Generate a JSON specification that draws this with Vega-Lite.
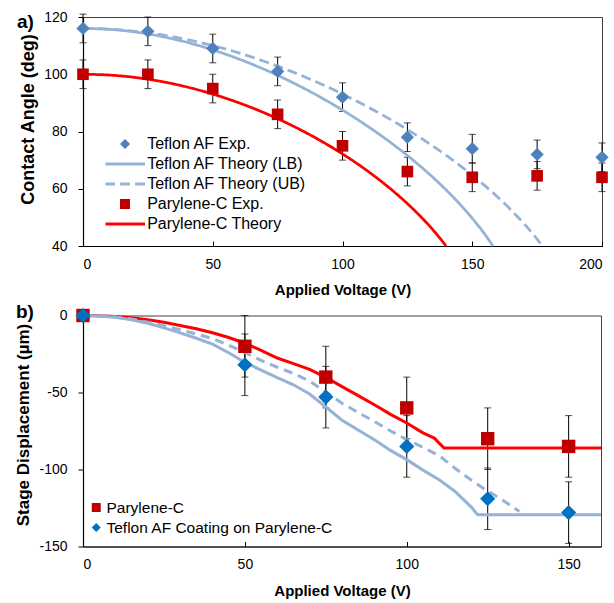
{
  "$schema": "https://vega.github.io/schema/vega-lite/v6.json",
  "padding": {"left": 14, "top": 9, "right": 8, "bottom": 5},
  "spacing": 4.5,
  "resolve": {"scale": {"color": "independent", "shape": "independent", "strokeDash": "independent"}, "legend": {"color": "independent", "shape": "independent"}},
  "config": {
    "font": "Liberation Sans",
    "view": {"stroke": "#404040", "strokeWidth": 1},
    "axis": {"grid": false, "labelFontSize": 14, "labelColor": "#000", "labelFont": "Liberation Sans", "titleFontSize": 15, "titleColor": "#000", "titleFont": "Liberation Sans", "titleFontWeight": "bold", "domainColor": "#000", "tickColor": "#000", "domainWidth": 1.2}
  },
  "datasets": {
    "aTef": [
      {"v": 0, "angle": 116, "lo": 111, "hi": 121, "series": "Teflon AF Exp."},
      {"v": 25, "angle": 115, "lo": 110, "hi": 120, "series": "Teflon AF Exp."},
      {"v": 50, "angle": 109, "lo": 104, "hi": 114, "series": "Teflon AF Exp."},
      {"v": 75, "angle": 101, "lo": 96, "hi": 106, "series": "Teflon AF Exp."},
      {"v": 100, "angle": 92, "lo": 87, "hi": 97, "series": "Teflon AF Exp."},
      {"v": 125, "angle": 78, "lo": 73, "hi": 83, "series": "Teflon AF Exp."},
      {"v": 150, "angle": 74, "lo": 69, "hi": 79, "series": "Teflon AF Exp."},
      {"v": 175, "angle": 72, "lo": 67, "hi": 77, "series": "Teflon AF Exp."},
      {"v": 200, "angle": 71, "lo": 66, "hi": 76, "series": "Teflon AF Exp."}
    ],
    "aPar": [
      {"v": 0, "angle": 100, "lo": 95, "hi": 105, "series": "Parylene-C Exp."},
      {"v": 25, "angle": 100, "lo": 95, "hi": 105, "series": "Parylene-C Exp."},
      {"v": 50, "angle": 95, "lo": 90, "hi": 100, "series": "Parylene-C Exp."},
      {"v": 75, "angle": 86, "lo": 81, "hi": 91, "series": "Parylene-C Exp."},
      {"v": 100, "angle": 75, "lo": 70, "hi": 80, "series": "Parylene-C Exp."},
      {"v": 125, "angle": 66, "lo": 61, "hi": 71, "series": "Parylene-C Exp."},
      {"v": 150, "angle": 64, "lo": 59, "hi": 69, "series": "Parylene-C Exp."},
      {"v": 175, "angle": 64.5, "lo": 59.5, "hi": 69.5, "series": "Parylene-C Exp."},
      {"v": 200, "angle": 64, "lo": 59, "hi": 69, "series": "Parylene-C Exp."}
    ],
    "aTheory": [
      {"v": 0, "angle": 116, "series": "Teflon AF Theory (LB)"},
      {"v": 10, "angle": 115.69, "series": "Teflon AF Theory (LB)"},
      {"v": 20, "angle": 114.78, "series": "Teflon AF Theory (LB)"},
      {"v": 30, "angle": 113.26, "series": "Teflon AF Theory (LB)"},
      {"v": 40, "angle": 111.17, "series": "Teflon AF Theory (LB)"},
      {"v": 50, "angle": 108.53, "series": "Teflon AF Theory (LB)"},
      {"v": 60, "angle": 105.35, "series": "Teflon AF Theory (LB)"},
      {"v": 70, "angle": 101.65, "series": "Teflon AF Theory (LB)"},
      {"v": 80, "angle": 97.45, "series": "Teflon AF Theory (LB)"},
      {"v": 90, "angle": 92.73, "series": "Teflon AF Theory (LB)"},
      {"v": 100, "angle": 87.48, "series": "Teflon AF Theory (LB)"},
      {"v": 110, "angle": 81.64, "series": "Teflon AF Theory (LB)"},
      {"v": 120, "angle": 75.15, "series": "Teflon AF Theory (LB)"},
      {"v": 130, "angle": 67.86, "series": "Teflon AF Theory (LB)"},
      {"v": 140, "angle": 59.53, "series": "Teflon AF Theory (LB)"},
      {"v": 145, "angle": 54.84, "series": "Teflon AF Theory (LB)"},
      {"v": 150, "angle": 49.68, "series": "Teflon AF Theory (LB)"},
      {"v": 155, "angle": 43.9, "series": "Teflon AF Theory (LB)"},
      {"v": 158, "angle": 40, "series": "Teflon AF Theory (LB)"},
      {"v": 0, "angle": 116, "series": "Teflon AF Theory (UB)"},
      {"v": 10, "angle": 115.75, "series": "Teflon AF Theory (UB)"},
      {"v": 20, "angle": 115.02, "series": "Teflon AF Theory (UB)"},
      {"v": 30, "angle": 113.81, "series": "Teflon AF Theory (UB)"},
      {"v": 40, "angle": 112.14, "series": "Teflon AF Theory (UB)"},
      {"v": 50, "angle": 110.01, "series": "Teflon AF Theory (UB)"},
      {"v": 60, "angle": 107.46, "series": "Teflon AF Theory (UB)"},
      {"v": 70, "angle": 104.48, "series": "Teflon AF Theory (UB)"},
      {"v": 80, "angle": 101.09, "series": "Teflon AF Theory (UB)"},
      {"v": 90, "angle": 97.3, "series": "Teflon AF Theory (UB)"},
      {"v": 100, "angle": 93.09, "series": "Teflon AF Theory (UB)"},
      {"v": 110, "angle": 88.47, "series": "Teflon AF Theory (UB)"},
      {"v": 120, "angle": 83.39, "series": "Teflon AF Theory (UB)"},
      {"v": 130, "angle": 77.8, "series": "Teflon AF Theory (UB)"},
      {"v": 140, "angle": 71.64, "series": "Teflon AF Theory (UB)"},
      {"v": 150, "angle": 64.75, "series": "Teflon AF Theory (UB)"},
      {"v": 160, "angle": 56.93, "series": "Teflon AF Theory (UB)"},
      {"v": 165, "angle": 52.54, "series": "Teflon AF Theory (UB)"},
      {"v": 170, "angle": 47.74, "series": "Teflon AF Theory (UB)"},
      {"v": 175, "angle": 42.37, "series": "Teflon AF Theory (UB)"},
      {"v": 177, "angle": 40, "series": "Teflon AF Theory (UB)"},
      {"v": 0, "angle": 100, "series": "Parylene-C Theory"},
      {"v": 10, "angle": 99.72, "series": "Parylene-C Theory"},
      {"v": 20, "angle": 98.89, "series": "Parylene-C Theory"},
      {"v": 30, "angle": 97.5, "series": "Parylene-C Theory"},
      {"v": 40, "angle": 95.56, "series": "Parylene-C Theory"},
      {"v": 50, "angle": 93.08, "series": "Parylene-C Theory"},
      {"v": 60, "angle": 90.05, "series": "Parylene-C Theory"},
      {"v": 70, "angle": 86.47, "series": "Parylene-C Theory"},
      {"v": 80, "angle": 82.33, "series": "Parylene-C Theory"},
      {"v": 90, "angle": 77.58, "series": "Parylene-C Theory"},
      {"v": 100, "angle": 72.16, "series": "Parylene-C Theory"},
      {"v": 110, "angle": 65.97, "series": "Parylene-C Theory"},
      {"v": 120, "angle": 58.83, "series": "Parylene-C Theory"},
      {"v": 125, "angle": 54.81, "series": "Parylene-C Theory"},
      {"v": 130, "angle": 50.39, "series": "Parylene-C Theory"},
      {"v": 135, "angle": 45.48, "series": "Parylene-C Theory"},
      {"v": 138, "angle": 42.23, "series": "Parylene-C Theory"},
      {"v": 139.9, "angle": 40, "series": "Parylene-C Theory"}
    ],
    "bExp": [
      {"v": 50, "disp": -20, "lo": -40, "hi": 0, "series": "Parylene-C"},
      {"v": 75, "disp": -40, "lo": -60, "hi": -20, "series": "Parylene-C"},
      {"v": 100, "disp": -60, "lo": -80, "hi": -40, "series": "Parylene-C"},
      {"v": 125, "disp": -80, "lo": -100, "hi": -60, "series": "Parylene-C"},
      {"v": 150, "disp": -85, "lo": -105, "hi": -65, "series": "Parylene-C"},
      {"v": 50, "disp": -32, "lo": -52, "hi": -12, "series": "Teflon AF Coating on Parylene-C"},
      {"v": 75, "disp": -53, "lo": -73, "hi": -33, "series": "Teflon AF Coating on Parylene-C"},
      {"v": 100, "disp": -85, "lo": -105, "hi": -65, "series": "Teflon AF Coating on Parylene-C"},
      {"v": 125, "disp": -119, "lo": -139, "hi": -99, "series": "Teflon AF Coating on Parylene-C"},
      {"v": 150, "disp": -128, "lo": -148, "hi": -108, "series": "Teflon AF Coating on Parylene-C"}
    ],
    "bPar": [
      {"v": 0, "disp": 0, "series": "Parylene-C"},
      {"v": 50, "disp": -20, "series": "Parylene-C"},
      {"v": 75, "disp": -40, "series": "Parylene-C"},
      {"v": 100, "disp": -60, "series": "Parylene-C"},
      {"v": 125, "disp": -80, "series": "Parylene-C"},
      {"v": 150, "disp": -85, "series": "Parylene-C"}
    ],
    "bTef": [
      {"v": 0, "disp": 0, "series": "Teflon AF Coating on Parylene-C"},
      {"v": 50, "disp": -32, "series": "Teflon AF Coating on Parylene-C"},
      {"v": 75, "disp": -53, "series": "Teflon AF Coating on Parylene-C"},
      {"v": 100, "disp": -85, "series": "Teflon AF Coating on Parylene-C"},
      {"v": 125, "disp": -119, "series": "Teflon AF Coating on Parylene-C"},
      {"v": 150, "disp": -128, "series": "Teflon AF Coating on Parylene-C"}
    ],
    "bRed": [
      {"v": 0, "disp": 0}, {"v": 5, "disp": -0.2}, {"v": 10, "disp": -0.6}, {"v": 15, "disp": -1.5},
      {"v": 20, "disp": -2.8}, {"v": 25, "disp": -4.4}, {"v": 30, "disp": -6.5}, {"v": 35, "disp": -8.6},
      {"v": 40, "disp": -11.2}, {"v": 45, "disp": -14.3}, {"v": 50, "disp": -18}, {"v": 55, "disp": -22.6},
      {"v": 60, "disp": -27.6}, {"v": 65, "disp": -31.2}, {"v": 70, "disp": -35}, {"v": 75, "disp": -40.2},
      {"v": 80, "disp": -46.2}, {"v": 85, "disp": -52}, {"v": 90, "disp": -58}, {"v": 95, "disp": -64.2},
      {"v": 100, "disp": -69.8}, {"v": 105, "disp": -76.2}, {"v": 108.5, "disp": -79.6}, {"v": 111.5, "disp": -86},
      {"v": 160, "disp": -86}
    ],
    "bUB": [
      {"v": 0, "disp": 0}, {"v": 5, "disp": -0.2}, {"v": 10, "disp": -0.9}, {"v": 15, "disp": -2.3},
      {"v": 20, "disp": -4.3}, {"v": 25, "disp": -6.7}, {"v": 30, "disp": -9.3}, {"v": 35, "disp": -12},
      {"v": 40, "disp": -15}, {"v": 45, "disp": -19.2}, {"v": 50, "disp": -24}, {"v": 55, "disp": -29.2},
      {"v": 60, "disp": -33.6}, {"v": 65, "disp": -37.6}, {"v": 70, "disp": -42.6}, {"v": 75, "disp": -49.6},
      {"v": 80, "disp": -57}, {"v": 85, "disp": -63}, {"v": 90, "disp": -68.8}, {"v": 95, "disp": -75},
      {"v": 100, "disp": -80.6}, {"v": 105, "disp": -85.6}, {"v": 110, "disp": -91}, {"v": 115, "disp": -99.4},
      {"v": 120, "disp": -107}, {"v": 125, "disp": -114}, {"v": 130, "disp": -120.4}, {"v": 134.8, "disp": -127.3}
    ],
    "bLB": [
      {"v": 0, "disp": 0}, {"v": 5, "disp": -0.3}, {"v": 10, "disp": -1.1}, {"v": 15, "disp": -2.8},
      {"v": 20, "disp": -5}, {"v": 25, "disp": -8}, {"v": 30, "disp": -11.3}, {"v": 35, "disp": -14.8},
      {"v": 40, "disp": -18.6}, {"v": 45, "disp": -24.2}, {"v": 50, "disp": -30.5}, {"v": 55, "disp": -35.4},
      {"v": 60, "disp": -40.4}, {"v": 65, "disp": -45}, {"v": 70, "disp": -51}, {"v": 75, "disp": -59.4},
      {"v": 80, "disp": -68}, {"v": 85, "disp": -74.4}, {"v": 90, "disp": -80.7}, {"v": 95, "disp": -87.6},
      {"v": 100, "disp": -93.6}, {"v": 105, "disp": -100.4}, {"v": 110, "disp": -106.6}, {"v": 115, "disp": -114.4},
      {"v": 120, "disp": -124.6}, {"v": 121.9, "disp": -129.4}, {"v": 160, "disp": -129.4}
    ]
  },
  "vconcat": [
    {
      "width": 519,
      "height": 229,
      "title": {"text": "a)", "anchor": "start", "frame": "group", "dx": -66, "offset": -21.5, "fontSize": 19, "fontWeight": "bold", "color": "#000", "font": "Liberation Sans"},
      "encoding": {
        "x": {"field": "v", "type": "quantitative", "title": "Applied Voltage (V)",
              "scale": {"domain": [0, 200], "nice": false},
              "axis": {"values": [0, 50, 100, 150, 200], "tickSize": -5, "labelPadding": 16, "titlePadding": 11.5}},
        "y": {"field": "angle", "type": "quantitative", "title": "Contact Angle (deg)",
              "scale": {"domain": [40, 120], "nice": false, "zero": false},
              "axis": {"values": [40, 60, 80, 100, 120], "tickSize": 5, "labelPadding": 11, "titlePadding": 6, "titleFontSize": 18, "titleY": 102}}
      },
      "layer": [
        {"data": {"name": "aTef"}, "mark": {"type": "rule", "color": "#000", "strokeWidth": 1},
         "encoding": {"y": {"field": "lo", "type": "quantitative", "title": "Contact Angle (deg)"}, "y2": {"field": "hi"}}},
        {"data": {"name": "aPar"}, "mark": {"type": "rule", "color": "#000", "strokeWidth": 1},
         "encoding": {"y": {"field": "lo", "type": "quantitative", "title": "Contact Angle (deg)"}, "y2": {"field": "hi"}}},
        {"data": {"name": "aTef"}, "mark": {"type": "tick", "orient": "horizontal", "size": 7, "thickness": 1, "color": "#000"},
         "encoding": {"y": {"field": "lo", "type": "quantitative", "title": "Contact Angle (deg)"}}},
        {"data": {"name": "aTef"}, "mark": {"type": "tick", "orient": "horizontal", "size": 7, "thickness": 1, "color": "#000"},
         "encoding": {"y": {"field": "hi", "type": "quantitative", "title": "Contact Angle (deg)"}}},
        {"data": {"name": "aPar"}, "mark": {"type": "tick", "orient": "horizontal", "size": 7, "thickness": 1, "color": "#000"},
         "encoding": {"y": {"field": "lo", "type": "quantitative", "title": "Contact Angle (deg)"}}},
        {"data": {"name": "aPar"}, "mark": {"type": "tick", "orient": "horizontal", "size": 7, "thickness": 1, "color": "#000"},
         "encoding": {"y": {"field": "hi", "type": "quantitative", "title": "Contact Angle (deg)"}}},
        {"data": {"name": "aTheory"}, "mark": {"type": "line", "strokeWidth": 2.75, "interpolate": "monotone"},
         "encoding": {
           "y": {"field": "angle", "type": "quantitative", "title": "Contact Angle (deg)"},
           "color": {"field": "series", "type": "nominal",
             "scale": {"domain": ["Teflon AF Exp.", "Teflon AF Theory (LB)", "Teflon AF Theory (UB)", "Parylene-C Exp.", "Parylene-C Theory"],
                       "range": ["#4F81BD", "#95B3D7", "#95B3D7", "#C00000", "#FF0000"]},
             "legend": {"orient": "none", "legendX": 22.5, "legendY": 117, "title": null, "padding": 0,
               "labelFontSize": 16, "labelColor": "#000", "labelFont": "Liberation Sans", "labelOffset": 14.2, "labelLimit": 0,
               "clipHeight": 20, "rowPadding": 0, "symbolOffset": 11.5, "symbolSize": 1600, "symbolStrokeWidth": 3,
               "encode": {"symbols": {"update": {
                 "shape": {"signal": "datum.value === 'Teflon AF Exp.' ? 'diamond' : datum.value === 'Parylene-C Exp.' ? 'square' : 'stroke'"},
                 "size": {"signal": "datum.value === 'Teflon AF Exp.' ? 100 : datum.value === 'Parylene-C Exp.' ? 100 : 1600"},
                 "fill": {"signal": "datum.value === 'Teflon AF Exp.' ? '#4F81BD' : datum.value === 'Parylene-C Exp.' ? '#C00000' : 'transparent'"},
                 "stroke": {"signal": "datum.value === 'Parylene-C Theory' ? '#FF0000' : datum.value === 'Teflon AF Theory (LB)' || datum.value === 'Teflon AF Theory (UB)' ? '#95B3D7' : 'transparent'"},
                 "strokeDash": {"signal": "datum.value === 'Teflon AF Theory (UB)' ? [10, 5] : [1, 0]"},
                 "strokeWidth": {"signal": "datum.value === 'Teflon AF Exp.' || datum.value === 'Parylene-C Exp.' ? 0 : 3"},
                 "opacity": {"value": 1}
               }}}}},
           "strokeDash": {"field": "series", "type": "nominal",
             "scale": {"domain": ["Teflon AF Theory (LB)", "Teflon AF Theory (UB)", "Parylene-C Theory"], "range": [[1, 0], [10, 5], [1, 0]]},
             "legend": null}
         }},
        {"data": {"name": "aTef"}, "mark": {"type": "point", "filled": true, "opacity": 1, "shape": "diamond", "size": 175, "strokeWidth": 0},
         "encoding": {
           "y": {"field": "angle", "type": "quantitative", "title": "Contact Angle (deg)"},
           "color": {"field": "series", "type": "nominal",
             "scale": {"domain": ["Teflon AF Exp.", "Teflon AF Theory (LB)", "Teflon AF Theory (UB)", "Parylene-C Exp.", "Parylene-C Theory"],
                       "range": ["#4F81BD", "#95B3D7", "#95B3D7", "#C00000", "#FF0000"]}}
         }},
        {"data": {"name": "aPar"}, "mark": {"type": "point", "filled": true, "opacity": 1, "shape": "square", "size": 135, "strokeWidth": 0},
         "encoding": {
           "y": {"field": "angle", "type": "quantitative", "title": "Contact Angle (deg)"},
           "color": {"field": "series", "type": "nominal",
             "scale": {"domain": ["Teflon AF Exp.", "Teflon AF Theory (LB)", "Teflon AF Theory (UB)", "Parylene-C Exp.", "Parylene-C Theory"],
                       "range": ["#4F81BD", "#95B3D7", "#95B3D7", "#C00000", "#FF0000"]}}
         }}
      ]
    },
    {
      "width": 518,
      "height": 231,
      "title": {"text": "b)", "anchor": "start", "frame": "group", "dx": -67, "offset": -14.5, "fontSize": 19, "fontWeight": "bold", "color": "#000", "font": "Liberation Sans"},
      "encoding": {
        "x": {"field": "v", "type": "quantitative", "title": "Applied Voltage (V)",
              "scale": {"domain": [0, 160], "nice": false},
              "axis": {"values": [0, 50, 100, 150], "tickSize": -5, "labelPadding": 16, "titlePadding": 11.5}},
        "y": {"field": "disp", "type": "quantitative", "title": "Stage Displacement (µm)",
              "scale": {"domain": [-150, 0], "nice": false, "zero": false},
              "axis": {"values": [-150, -100, -50, 0], "labelExpr": "toString(datum.value)", "tickSize": 5, "labelPadding": 11, "titlePadding": 6, "titleFontSize": 17, "titleY": 109}}
      },
      "layer": [
        {"data": {"name": "bExp"}, "mark": {"type": "rule", "color": "#000", "strokeWidth": 1},
         "encoding": {"y": {"field": "lo", "type": "quantitative", "title": "Stage Displacement (µm)"}, "y2": {"field": "hi"}}},
        {"data": {"name": "bExp"}, "mark": {"type": "tick", "orient": "horizontal", "size": 7, "thickness": 1, "color": "#000"},
         "encoding": {"y": {"field": "lo", "type": "quantitative", "title": "Stage Displacement (µm)"}}},
        {"data": {"name": "bExp"}, "mark": {"type": "tick", "orient": "horizontal", "size": 7, "thickness": 1, "color": "#000"},
         "encoding": {"y": {"field": "hi", "type": "quantitative", "title": "Stage Displacement (µm)"}}},
        {"data": {"name": "bRed"}, "mark": {"type": "line", "strokeWidth": 3, "color": "#FF0000"},
         "encoding": {"y": {"field": "disp", "type": "quantitative", "title": "Stage Displacement (µm)"}}},
        {"data": {"name": "bUB"}, "mark": {"type": "line", "strokeWidth": 3, "color": "#95B3D7", "strokeDash": [9, 6]},
         "encoding": {"y": {"field": "disp", "type": "quantitative", "title": "Stage Displacement (µm)"}}},
        {"data": {"name": "bLB"}, "mark": {"type": "line", "strokeWidth": 3, "color": "#95B3D7"},
         "encoding": {"y": {"field": "disp", "type": "quantitative", "title": "Stage Displacement (µm)"}}},
        {"data": {"name": "bPar"}, "mark": {"type": "point", "filled": true, "opacity": 1, "size": 180, "strokeWidth": 0},
         "encoding": {
           "y": {"field": "disp", "type": "quantitative", "title": "Stage Displacement (µm)"},
           "color": {"field": "series", "type": "nominal",
             "scale": {"domain": ["Parylene-C", "Teflon AF Coating on Parylene-C"], "range": ["#C00000", "#0070C0"]},
             "legend": {"orient": "none", "legendX": 5.5, "legendY": 182, "title": null, "padding": 0,
               "labelFontSize": 15.5, "labelColor": "#000", "labelFont": "Liberation Sans", "labelOffset": 2.5, "labelLimit": 0,
               "clipHeight": 20, "rowPadding": 0, "symbolOffset": 0, "symbolSize": 80, "symbolStrokeWidth": 0}},
           "shape": {"field": "series", "type": "nominal",
             "scale": {"domain": ["Parylene-C", "Teflon AF Coating on Parylene-C"], "range": ["square", "diamond"]},
             "legend": {"orient": "none", "legendX": 5.5, "legendY": 182, "title": null, "padding": 0,
               "labelFontSize": 15.5, "labelColor": "#000", "labelFont": "Liberation Sans", "labelOffset": 2.5, "labelLimit": 0,
               "clipHeight": 20, "rowPadding": 0, "symbolOffset": 0, "symbolSize": 80, "symbolStrokeWidth": 0}}
         }},
        {"data": {"name": "bTef"}, "mark": {"type": "point", "filled": true, "opacity": 1, "size": 230, "strokeWidth": 0},
         "encoding": {
           "y": {"field": "disp", "type": "quantitative", "title": "Stage Displacement (µm)"},
           "color": {"field": "series", "type": "nominal",
             "scale": {"domain": ["Parylene-C", "Teflon AF Coating on Parylene-C"], "range": ["#C00000", "#0070C0"]},
             "legend": {"orient": "none", "legendX": 5.5, "legendY": 182, "title": null, "padding": 0,
               "labelFontSize": 15.5, "labelColor": "#000", "labelFont": "Liberation Sans", "labelOffset": 2.5, "labelLimit": 0,
               "clipHeight": 20, "rowPadding": 0, "symbolOffset": 0, "symbolSize": 80, "symbolStrokeWidth": 0}},
           "shape": {"field": "series", "type": "nominal",
             "scale": {"domain": ["Parylene-C", "Teflon AF Coating on Parylene-C"], "range": ["square", "diamond"]},
             "legend": {"orient": "none", "legendX": 5.5, "legendY": 182, "title": null, "padding": 0,
               "labelFontSize": 15.5, "labelColor": "#000", "labelFont": "Liberation Sans", "labelOffset": 2.5, "labelLimit": 0,
               "clipHeight": 20, "rowPadding": 0, "symbolOffset": 0, "symbolSize": 80, "symbolStrokeWidth": 0}}
         }}
      ]
    }
  ]
}
